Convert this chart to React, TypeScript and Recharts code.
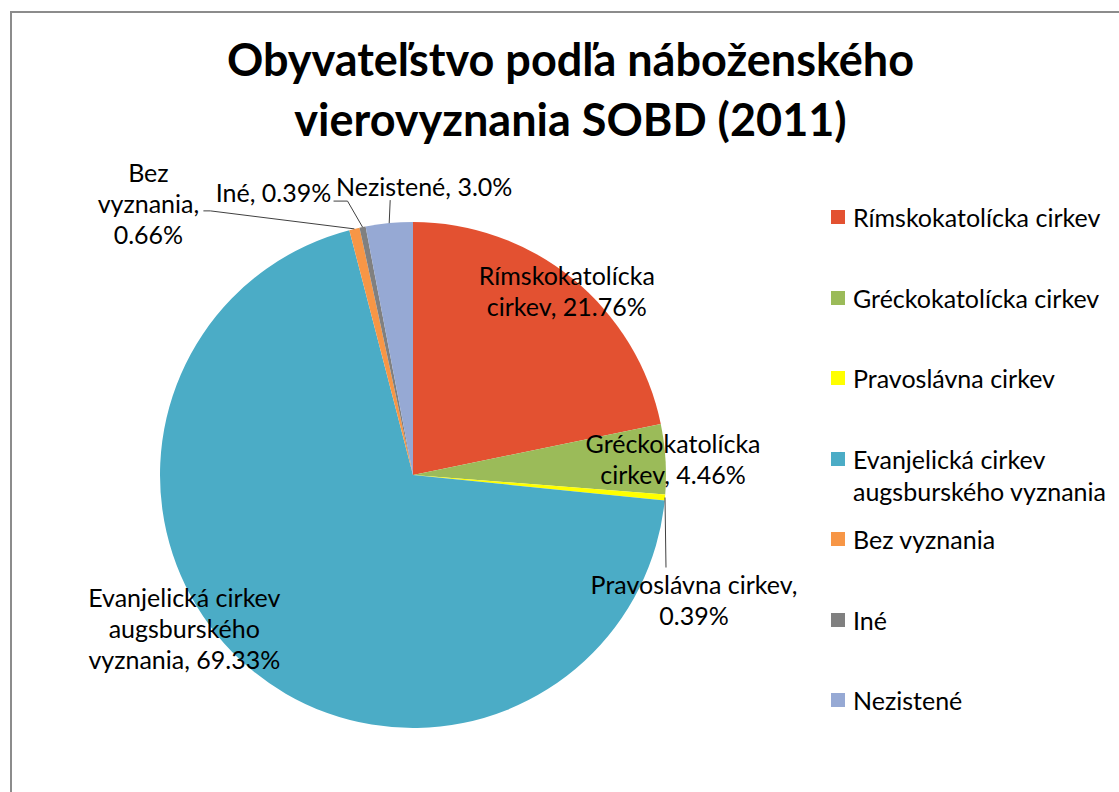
import React from "react";
import { Cell, Legend, Pie, PieChart } from "recharts";

const NAMES = [
  "Rímskokatolícka cirkev",
  "Gréckokatolícka cirkev",
  "Pravoslávna cirkev",
  "Evanjelická cirkev augsburského vyznania",
  "Bez vyznania",
  "Iné",
  "Nezistené",
];
const SHARES = [21.76, 4.46, 0.39, 69.33, 0.66, 0.39, 3.0];
// how Excel broke the data labels onto lines
const LABEL_LINES = [
  ["Rímskokatolícka", "cirkev, 21.76%"],
  ["Gréckokatolícka", "cirkev, 4.46%"],
  ["Pravoslávna cirkev,", "0.39%"],
  ["Evanjelická cirkev", "augsburského", "vyznania, 69.33%"],
  ["Bez", "vyznania,", "0.66%"],
  ["Iné, 0.39%"],
  ["Nezistené, 3.0%"],
];
const COLORS = ["#E35131", "#9BBB59", "#FFFF00", "#4BACC6", "#F79646", "#808080", "#96A9D4"];

// label placement: point on mid angle at rf * radius, shifted by dx/dy.
// leader: offsets from the label centre, last point goes to the slice edge
const LABEL_POS = [
  { rf: 0.95, dx: 2, dy: 2 },
  { rf: 1.03, dx: 0, dy: 0 },
  { rf: 1, dx: 29, dy: 102, leader: [[-28, -32]] },
  { rf: 1, dx: -64, dy: -39 },
  { rf: 1, dx: -206, dy: -26, leader: [[55, 8], [62, 8]] },
  { rf: 1, dx: -89, dy: -35, leader: [[60, 9], [74, 9]] },
  { rf: 1, dx: 35, dy: -37, leader: [[-34, 14]] },
];

const FONT = "Lato, 'Open Sans', sans-serif";
const LINE_H = 31;
const RAD = Math.PI / 180;

const data = NAMES.map((name, i) => ({ name, value: SHARES[i] }));

function renderLabel(props: any) {
  const { cx, cy, midAngle, outerRadius, index } = props;
  const pos = LABEL_POS[index];
  const px = (r: number) => cx + Math.cos(-midAngle * RAD) * r;
  const py = (r: number) => cy + Math.sin(-midAngle * RAD) * r;
  const lx = px(outerRadius * pos.rf) + pos.dx;
  const ly = py(outerRadius * pos.rf) + pos.dy;
  const lines = LABEL_LINES[index];
  let leader = null;
  if (pos.leader) {
    const pts = pos.leader.map(([ox, oy]) => `${lx + ox},${ly + oy}`);
    pts.push(`${px(outerRadius)},${py(outerRadius)}`);
    leader = <polyline points={pts.join(" ")} fill="none" stroke="#404040" strokeWidth={1} />;
  }
  return (
    <g key={`lbl-${index}`}>
      {leader}
      <text x={lx} y={ly} textAnchor="middle" fill="#000" fontFamily={FONT} fontSize={25}>
        {lines.map((t, i) => (
          <tspan key={i} x={lx} y={ly + (i - (lines.length - 1) / 2) * LINE_H} dominantBaseline="central">
            {t}
          </tspan>
        ))}
      </text>
    </g>
  );
}

function renderLegend(props: any) {
  const items = [...props.payload].sort(
    (a: any, b: any) => NAMES.indexOf(a.value) - NAMES.indexOf(b.value)
  );
  return (
    <div style={{ fontFamily: FONT, fontSize: 25, color: "#000" }}>
      {items.map((p: any) => (
        <div key={p.value} style={{ display: "flex", alignItems: "flex-start", height: 80.5 }}>
          <div style={{ width: 14, height: 14, background: p.color, marginTop: 9, marginRight: 8, flex: "none" }} />
          <div style={{ width: 270, lineHeight: "32px" }}>{p.value}</div>
        </div>
      ))}
    </div>
  );
}

export default function App() {
  return (
    <div style={{ position: "absolute", left: 0, top: 0, width: 1119, height: 792, overflow: "hidden", background: "#fff" }}>
      <div
        style={{
          position: "absolute",
          left: 10,
          top: 11,
          width: 1200,
          height: 900,
          border: "2px solid #8C8C8C",
          boxSizing: "border-box",
        }}
      />
      <div
        style={{
          position: "absolute",
          left: 0,
          width: 1141,
          top: 29,
          textAlign: "center",
          fontFamily: FONT,
          fontWeight: 700,
          fontSize: 45,
          lineHeight: "60px",
          color: "#000",
        }}
      >
        Obyvateľstvo podľa náboženského
        <br />
        vierovyznania SOBD (2011)
      </div>
      <div style={{ position: "absolute", left: 0, top: 0 }}>
        <PieChart width={1119} height={792} margin={{ top: 0, right: 0, bottom: 0, left: 0 }}>
          <Pie
            data={data}
            dataKey="value"
            nameKey="name"
            cx={413}
            cy={475}
            outerRadius={253}
            startAngle={90}
            endAngle={-270}
            stroke="none"
            label={renderLabel}
            labelLine={false}
            isAnimationActive={false}
          >
            {data.map((d, i) => (
              <Cell key={d.name} fill={COLORS[i]} />
            ))}
          </Pie>
          <Legend
            layout="vertical"
            content={renderLegend}
            wrapperStyle={{ position: "absolute", left: 831, top: 201, width: 295 }}
          />
        </PieChart>
      </div>
    </div>
  );
}
